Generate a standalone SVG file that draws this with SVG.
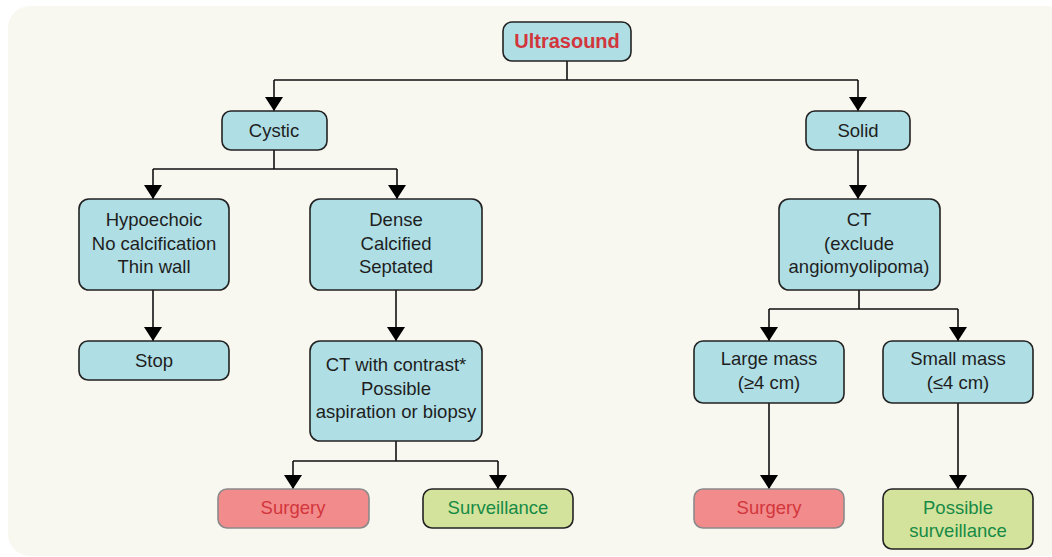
<svg xmlns="http://www.w3.org/2000/svg" width="1052" height="557" viewBox="0 0 1052 557">
<style>
.bg{fill:#f8f7f0}
.box{fill:#afdfe5;stroke:#222;stroke-width:1.6}
.red{fill:#f28b8b;stroke:#8a8a8a;stroke-width:1.6}
.grn{fill:#d3e39c;stroke:#222;stroke-width:1.6}
text{font-family:"Liberation Sans",Arial,sans-serif;font-size:18.5px;text-anchor:middle;fill:#1e1e1e}
.tr{fill:#d2363c}
.tg{fill:#178a45}
.title{font-weight:bold;font-size:20px;fill:#d2363c}
.ln{fill:none;stroke:#111;stroke-width:1.6}
</style>
<defs>
<marker id="ah" markerWidth="14" markerHeight="18" refX="14" refY="9" orient="auto" markerUnits="userSpaceOnUse" viewBox="0 0 14 18">
<path d="M0,0 L14,9 L0,18 Z" fill="#000"/>
</marker>
</defs>
<rect class="bg" x="8" y="6" width="1060" height="550" rx="22"/>
<g id="connectors">
<path class="ln" d="M567,61 V80 M274,80 H858"/>
<path class="ln" d="M274,80 V111" marker-end="url(#ah)"/>
<path class="ln" d="M858,80 V111" marker-end="url(#ah)"/>
<path class="ln" d="M274,150 V169 M153,169 H397"/>
<path class="ln" d="M153,169 V199" marker-end="url(#ah)"/>
<path class="ln" d="M397,169 V199" marker-end="url(#ah)"/>
<path class="ln" d="M153,290 V341" marker-end="url(#ah)"/>
<path class="ln" d="M396,290 V341" marker-end="url(#ah)"/>
<path class="ln" d="M396,441 V461 M293,461 H498"/>
<path class="ln" d="M293,461 V489" marker-end="url(#ah)"/>
<path class="ln" d="M498,461 V489" marker-end="url(#ah)"/>
<path class="ln" d="M858,150 V199" marker-end="url(#ah)"/>
<path class="ln" d="M859,290 V309 M769,309 H958"/>
<path class="ln" d="M769,309 V341" marker-end="url(#ah)"/>
<path class="ln" d="M958,309 V341" marker-end="url(#ah)"/>
<path class="ln" d="M769,403 V489" marker-end="url(#ah)"/>
<path class="ln" d="M958,403 V489" marker-end="url(#ah)"/>
</g>
<g id="ultrasound">
<rect class="box" x="503" y="22" width="128" height="39" rx="9"/>
<text class="title" x="567" y="48">Ultrasound</text>
</g>
<g id="cystic">
<rect class="box" x="222" y="111" width="105" height="39" rx="9"/>
<text x="274" y="137">Cystic</text>
</g>
<g id="solid">
<rect class="box" x="806" y="111" width="104" height="39" rx="9"/>
<text x="858" y="137">Solid</text>
</g>
<g id="hypoechoic">
<rect class="box" x="79" y="199" width="150" height="91" rx="10"/>
<text x="154" y="226">Hypoechoic</text>
<text x="154" y="250">No calcification</text>
<text x="154" y="273">Thin wall</text>
</g>
<g id="dense">
<rect class="box" x="310" y="199" width="172" height="91" rx="10"/>
<text x="396" y="226">Dense</text>
<text x="396" y="250">Calcified</text>
<text x="396" y="273">Septated</text>
</g>
<g id="stop">
<rect class="box" x="79" y="341" width="150" height="39" rx="9"/>
<text x="154" y="367">Stop</text>
</g>
<g id="ct-contrast">
<rect class="box" x="310" y="341" width="172" height="100" rx="10"/>
<text x="396" y="371">CT with contrast*</text>
<text x="396" y="395">Possible</text>
<text x="396" y="418">aspiration or biopsy</text>
</g>
<g id="surgery-left">
<rect class="red" x="218" y="489" width="151" height="39" rx="9"/>
<text class="tr" x="293" y="514">Surgery</text>
</g>
<g id="surveillance">
<rect class="grn" x="423" y="489" width="150" height="39" rx="9"/>
<text class="tg" x="498" y="514">Surveillance</text>
</g>
<g id="ct-exclude">
<rect class="box" x="779" y="199" width="161" height="91" rx="10"/>
<text x="859" y="226">CT</text>
<text x="859" y="250">(exclude</text>
<text x="859" y="273">angiomyolipoma)</text>
</g>
<g id="large-mass">
<rect class="box" x="694" y="341" width="150" height="62" rx="9"/>
<text x="769" y="365">Large mass</text>
<text x="769" y="389">(≥4 cm)</text>
</g>
<g id="small-mass">
<rect class="box" x="883" y="341" width="150" height="62" rx="9"/>
<text x="958" y="365">Small mass</text>
<text x="958" y="389">(≤4 cm)</text>
</g>
<g id="surgery-right">
<rect class="red" x="694" y="489" width="150" height="39" rx="9"/>
<text class="tr" x="769" y="514">Surgery</text>
</g>
<g id="possible-surveillance">
<rect class="grn" x="883" y="489" width="150" height="60" rx="9"/>
<text class="tg" x="958" y="514">Possible</text>
<text class="tg" x="958" y="537">surveillance</text>
</g>
</svg>
